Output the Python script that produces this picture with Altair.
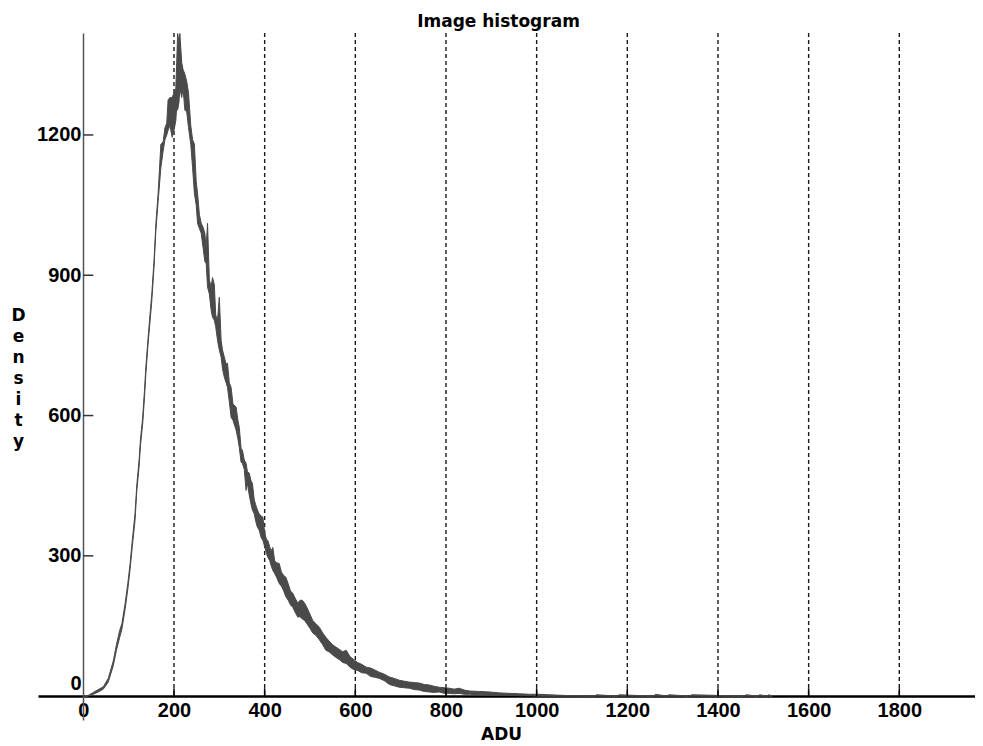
import altair as alt
import pandas as pd

# ---- data ----
adu = [0, 10, 22, 33, 44, 55, 66, 73, 80, 85, 92, 98, 103, 108, 114, 118, 123, 126, 131, 135,
       138, 143, 147, 151, 156, 160, 165, 171, 176, 180, 184, 187, 191, 196, 200, 204, 206, 208,
       211, 213, 217, 220, 224, 228, 232, 237, 241, 245, 249, 252, 256, 260, 264, 268, 271, 274,
       278, 282, 285, 289, 292, 296, 300, 304, 307, 311, 315, 318, 322, 326, 330, 337, 341, 344,
       348, 351, 355, 359, 362, 366, 370, 373, 377, 380, 384, 388, 392, 396, 400, 404, 407, 411,
       414, 418, 422, 426, 432, 437, 442, 447, 452, 457, 462, 467, 473, 478, 483, 488, 493, 500,
       506, 513, 521, 528, 535, 542, 550, 557, 565, 572, 580, 588, 598, 605, 614, 624, 634, 645,
       653, 664, 675, 686, 697, 708, 719, 730, 741, 752, 763, 774, 785, 796, 807, 818, 829, 840,
       852, 874, 896, 918, 940, 962, 984, 1006, 1028, 1050, 1075, 1100, 1128, 1132, 1178, 1182,
       1258, 1262, 1288, 1292, 1338, 1342, 1458, 1462, 1488, 1492, 1508, 1512, 1520]
lo = [0, 0, 4, 9, 15, 30, 65, 98, 125, 143, 185, 228, 270, 320, 375, 440, 490, 535, 583, 640,
      690, 755, 800, 845, 918, 995, 1058, 1130, 1165, 1190, 1200, 1210, 1220, 1195, 1210, 1230, 1260, 1253,
      1270, 1300, 1280, 1300, 1253, 1250, 1216, 1180, 1130, 1075, 1050, 1011, 1000, 990, 960, 930, 925, 875,
      860, 825, 810, 804, 790, 761, 740, 725, 700, 682, 670, 660, 630, 596, 590, 569, 550, 532,
      500, 498, 485, 440, 455, 430, 410, 398, 390, 375, 361, 355, 340, 333, 320, 305, 297, 290,
      280, 269, 262, 255, 241, 235, 225, 212, 205, 195, 190, 180, 169, 170, 165, 162, 155, 145,
      135, 130, 120, 110, 98, 95, 88, 83, 78, 72, 70, 62, 56, 55, 50, 49, 42, 40,
      38, 33, 25, 22, 19, 18, 17, 14, 13, 10, 9, 8, 9, 6, 6, 5, 6, 4,
      4, 3, 2, 2, 2, 1, 1, 0, 0, 0, 0, 0, 0, 0, 0, 0,
      0, 0, 0, 0, 0, 0, 0, 0, 0, 0, 0, 0, 0]
hi = [0, 1, 8, 14, 20, 38, 75, 110, 140, 155, 197, 240, 282, 333, 390, 452, 505, 548, 597, 655,
      705, 768, 815, 860, 932, 1010, 1075, 1180, 1185, 1215, 1225, 1275, 1280, 1280, 1290, 1300, 1355, 1417,
      1400, 1417, 1355, 1340, 1330, 1315, 1290, 1220, 1190, 1180, 1100, 1075, 1030, 1011, 1003, 990, 960, 1011,
      890, 875, 895, 880, 815, 804, 853, 760, 740, 725, 710, 712, 670, 660, 625, 618, 590, 575,
      530, 526, 505, 498, 480, 477, 460, 455, 420, 410, 398, 390, 385, 383, 350, 335, 333, 320,
      310, 318, 290, 285, 284, 265, 258, 254, 240, 225, 220, 210, 199, 205, 205, 199, 190, 175,
      162, 155, 147, 135, 126, 118, 110, 105, 100, 95, 98, 85, 77, 72, 68, 62, 60, 55,
      51, 47, 41, 38, 34, 32, 30, 29, 28, 25, 24, 21, 19, 18, 17, 15, 17, 13,
      11, 10, 9, 7, 6, 5, 4, 4, 3, 2, 1, 1, 0, 3, 0, 3,
      0, 4, 0, 3, 0, 3, 0, 3, 0, 3, 0, 3, 0]

x_ticks = [0, 200, 400, 600, 800, 1000, 1200, 1400, 1600, 1800]
grid_x = [200, 400, 600, 800, 1000, 1200, 1400, 1600, 1800]
y_ticks = [0, 300, 600, 900, 1200]
y_inner_ticks = [300, 600, 900, 1200]
X_DOMAIN = [-100, 1967]
Y_DOMAIN = [-51, 1418]
X_TICK_LEN = 17   # tick length in data units (y)
Y_TICK_LEN = 22   # tick length in data units (x)

curve = pd.DataFrame({"adu": adu, "lo": lo, "hi": hi})
grid = pd.DataFrame({"g": grid_x, "top": Y_DOMAIN[1], "base": 0})
xt = pd.DataFrame({"t": grid_x, "z": 0, "z2": X_TICK_LEN})
yt = pd.DataFrame({"t": y_inner_ticks, "z": 0, "z2": Y_TICK_LEN})

xs = alt.Scale(domain=X_DOMAIN, nice=False, zero=False)
ys = alt.Scale(domain=Y_DOMAIN, nice=False, zero=False)

TICK_FONT = "Liberation Sans"
TITLE_FONT = "DejaVu Sans"

xaxis = alt.Axis(
    values=x_ticks, format="d", title="ADU", offset=-24, grid=False,
    domainColor="black", domainWidth=2.5, tickSize=0, labelPadding=4,
    labelFont=TICK_FONT, labelFontSize=20, labelFontWeight="bold", labelColor="black",
    labelFlush=False, labelOverlap=False,
    titleFont=TITLE_FONT, titleFontSize=17, titleFontWeight="bold", titleColor="black",
    titleX=463, titleY=43, titleBaseline="alphabetic",
)
yaxis = alt.Axis(
    values=y_ticks, format="d", title=list("Density"), offset=-45, grid=False,
    domainColor="#555555", domainWidth=1.5, tickSize=0, labelPadding=2,
    labelFont=TICK_FONT, labelFontSize=20, labelFontWeight="bold", labelColor="black",
    labelFlush=False, labelOverlap=False,
    labelOffset={"condition": {"test": "datum.value == 0", "value": -13}, "value": 0},
    titleFont=TITLE_FONT, titleFontSize=17, titleFontWeight="bold", titleColor="black",
    titleAngle=0, titleAlign="center", titleBaseline="middle", titleLineHeight=21,
    titleX=-65, titleY=282,
)

grid_layer = alt.Chart(grid).mark_rule(strokeDash=[4, 3], strokeWidth=1.4, color="#1a1a1a").encode(
    x=alt.X("g:Q", scale=xs, axis=xaxis),
    y=alt.Y("top:Q", scale=ys, axis=yaxis),
    y2="base:Q",
)

area = alt.Chart(curve).mark_area(color="#4a4a4a", stroke="#4a4a4a", strokeWidth=1).encode(
    x=alt.X("adu:Q", scale=xs, axis=xaxis),
    y=alt.Y("lo:Q", scale=ys, axis=yaxis),
    y2="hi:Q",
)

xtick_layer = alt.Chart(xt).mark_rule(strokeWidth=1.5, color="black").encode(
    x=alt.X("t:Q", scale=xs, axis=xaxis),
    y=alt.Y("z:Q", scale=ys, axis=yaxis),
    y2="z2:Q",
)

ytick_layer = alt.Chart(yt).mark_rule(strokeWidth=1.5, color="#333333").encode(
    x=alt.X("z:Q", scale=xs, axis=xaxis),
    x2="z2:Q",
    y=alt.Y("t:Q", scale=ys, axis=yaxis),
)

chart = alt.layer(grid_layer, area, xtick_layer, ytick_layer).properties(
    width=937,
    height=687,
    padding={"left": 30, "top": 25, "right": 0, "bottom": 22},
    autosize=alt.AutoSizeParams(type="none"),
    title=alt.TitleParams(
        "Image histogram", font=TITLE_FONT, fontSize=17, fontWeight="bold", color="black",
        frame="group", anchor="middle", dx=-8, dy=20, offset=7, baseline="alphabetic",
    ),
).configure_view(stroke=None)

chart.save("out.html", embed_options={"renderer": "svg", "actions": False})
